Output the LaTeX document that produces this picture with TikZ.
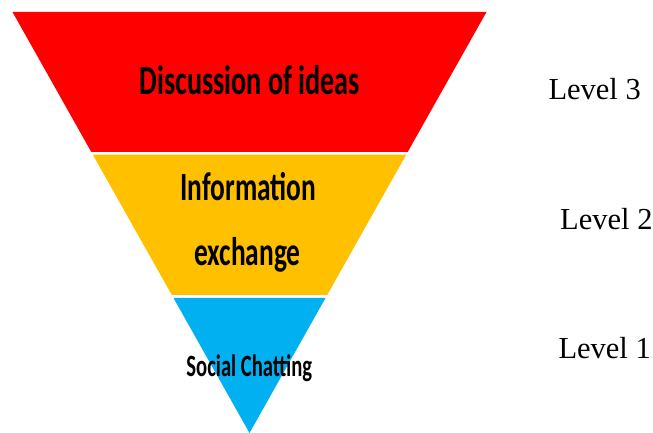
\documentclass[tikz,border=0pt]{standalone}
\usepackage{fontspec}
\usepackage{graphicx}
\usetikzlibrary{calc}
\newfontfamily\labelfont[BoldFont={Carlito Bold}]{Carlito}
\newfontfamily\levelfont{Liberation Serif}
\definecolor{topred}{HTML}{FF0000}
\definecolor{midgold}{HTML}{FFC000}
\definecolor{lowblue}{HTML}{00B0F0}
\tikzset{
  band/.style={draw=none},
  tiertext/.style={anchor=base, inner sep=0pt, text=black},
  leveltext/.style={anchor=base west, inner sep=0pt, text=black, font=\levelfont\fontsize{30.5}{36}\selectfont},
}
\newcommand{\narrow}[2]{\scalebox{#1}[1]{#2}}
\begin{document}
\begin{tikzpicture}[x=1pt,y=-1pt]
  \useasboundingbox (0,0) rectangle (653,433);
  % outline of the funnel
  \coordinate (TL) at (12.5,12);
  \coordinate (TR) at (486.5,12);
  \coordinate (A)  at (249.5,433);
  % band edges along the two sides
  \coordinate (L1) at ($(TL)!0.3325!(A)$);
  \coordinate (R1) at ($(TR)!0.3325!(A)$);
  \coordinate (L2) at ($(TL)!0.3385!(A)$);
  \coordinate (R2) at ($(TR)!0.3385!(A)$);
  \coordinate (L3) at ($(TL)!0.6722!(A)$);
  \coordinate (R3) at ($(TR)!0.6722!(A)$);
  \coordinate (L4) at ($(TL)!0.6793!(A)$);
  \coordinate (R4) at ($(TR)!0.6793!(A)$);
  \fill[band, topred]  (TL) -- (TR) -- (R1) -- (L1) -- cycle;
  \fill[band, midgold] (L2) -- (R2) -- (R3) -- (L3) -- cycle;
  \fill[band, lowblue] (L4) -- (R4) -- (A) -- cycle;
  % tier captions
  \node[tiertext, font=\labelfont\bfseries\fontsize{41.4}{48}\selectfont] (t3) at (249.7,94.3) {\narrow{0.68}{Discussion of ideas}};
  \node[tiertext, font=\labelfont\bfseries\fontsize{40}{48}\selectfont] (t2a) at (248.4,200) {\narrow{0.685}{Information}};
  \node[tiertext, font=\labelfont\bfseries\fontsize{40}{48}\selectfont] (t2b) at (247.5,265) {\narrow{0.685}{exchange}};
  \node[tiertext, font=\labelfont\bfseries\fontsize{31}{36}\selectfont] (t1) at (249.3,376.7) {\narrow{0.665}{Social Chatting}};
  % level labels
  \node[leveltext] (lv3) at (548.3,99.3) {Level 3};
  \node[leveltext] (lv2) at (560,229.3) {Level 2};
  \node[leveltext] (lv1) at (558.3,358.3) {Level 1};
\end{tikzpicture}
\end{document}
